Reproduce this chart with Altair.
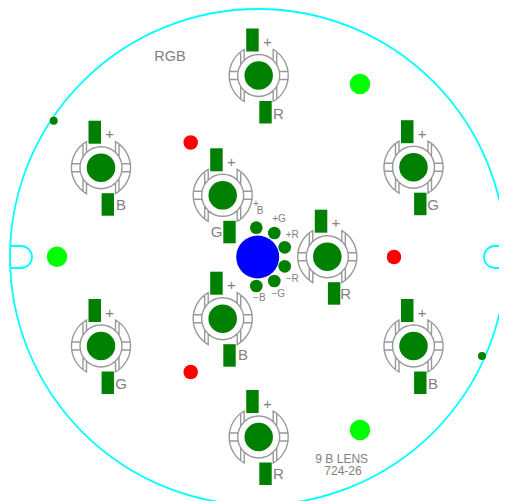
import altair as alt
import pandas as pd

# image-pixel coordinates
board_x = [258]; board_y = [257]
left_tab_x = [10]; right_tab_x = [506]; tab_y = [257]

led_x = [258.7, 101, 413.5, 222.7, 327.3, 222.7, 101, 413.5, 258.7]
led_y = [75.5, 167.7, 167.2, 195.3, 256.7, 318.7, 346, 346, 437]

pad_top_x1 = [x - 12.5 for x in led_x]
pad_top_x2 = list(led_x)
pad_top_y1 = [y - 47 for y in led_y]
pad_top_y2 = [y - 24 for y in led_y]
pad_bot_x1 = [x + 0.6 for x in led_x]
pad_bot_x2 = [x + 13 for x in led_x]
pad_bot_y1 = [y + 25.5 for y in led_y]
pad_bot_y2 = [y + 48 for y in led_y]

plus_x = [x + 8.6 for x in led_x]
plus_y = [y - 33.5 for y in led_y]

colour_text = ["R", "B", "G", "G", "R", "B", "G", "B", "R"]
colour_x = [278.3, 121, 433, 216.7, 345.7, 243, 121, 433, 278.3]
colour_y = [114, 205, 205, 232, 293.5, 355, 384, 384, 474]

hub_x = [257.7]; hub_y = [257]
dot_x = [256.3, 274.3, 284.7, 284.7, 274.3, 256.3]
dot_y = [227.7, 233, 247.3, 266.3, 281, 286]

small_text = ["+", "B", "+G", "+R", "\u2212R", "\u2212G", "\u2212B"]
small_x = [256, 260, 279, 292.3, 292.3, 278.3, 259.3]
small_y = [204, 211, 219.3, 234.7, 279.3, 294, 298.3]

red_x = [190.7, 394, 190.7]; red_y = [142.5, 257, 372]
lime_x = [360, 57, 360]; lime_y = [84, 256.7, 430]
via_x = [53.7, 482]; via_y = [120.7, 356]

big_text = ["RGB", "9 B LENS", "724-26"]
big_x = [170, 341.7, 343]; big_y = [57, 459, 471]
big_size = [14.5, 12, 12]

x_s = alt.Scale(domain=[8, 499], nice=False, zero=False)
y_s = alt.Scale(domain=[501, 8], nice=False, zero=False)
X = lambda f="x": alt.X(f + ":Q", scale=x_s, axis=None)
Y = lambda f="y": alt.Y(f + ":Q", scale=y_s, axis=None)

def pts(xs, ys):
    return alt.Chart(pd.DataFrame({"x": xs, "y": ys}))

def disc(xs, ys, d, color):
    return pts(xs, ys).mark_point(shape="circle", filled=True, size=d * d, color=color,
                                  opacity=1, strokeWidth=0).encode(x=X(), y=Y())

def rects(x1, x2, y1, y2):
    return alt.Chart(pd.DataFrame({"x": x1, "x2": x2, "y": y1, "y2": y2})).mark_rect(
        color="#008000").encode(x=X(), x2="x2:Q", y=Y(), y2="y2:Q")

def texts(labels, xs, ys, size):
    return alt.Chart(pd.DataFrame({"x": xs, "y": ys, "t": labels})).mark_text(
        font="Liberation Sans", fontSize=size, color="#808080", align="center", baseline="middle",
        opacity=0.99
    ).encode(x=X(), y=Y(), text="t:N")

# unit = 30 px; vega scales custom symbols by sqrt(size)/2
def u(v):
    return f"{v / 30:.4f}"

def P(*a):
    return " ".join(str(s) for s in a)

lobe = []
for s in (-1, 1):
    sw = 0 if s == -1 else 1
    lobe.append(P("M", u(s*14.5), u(-15), "L", u(s*14.5), u(-26),
                  "A", 1, 1, 0, 0, sw, u(s*14.5), u(26), "L", u(s*14.5), u(15)))
    lobe.append(P("M", u(s*18), u(-24), "L", u(s*18), u(-11)))
    lobe.append(P("M", u(s*18), u(24), "L", u(s*18), u(11)))
    lobe.append(P("M", u(s*30), u(-4), "L", u(s*21), u(-4)))
    lobe.append(P("M", u(s*30), u(4), "L", u(s*21), u(4)))
ring_r = 21 / 30
ring = P("M", u(21), 0, "A", ring_r, ring_r, 0, 1, 0, u(-21), 0, "A", ring_r, ring_r, 0, 1, 0, u(21), 0)
led_path = " ".join(lobe) + " " + ring

tab_l = "M0,-0.5 L0.5,-0.5 A0.5,0.5 0 0 1 0.5,0.5 L0,0.5"
tab_r = "M0,-0.5 L-0.5,-0.5 A0.5,0.5 0 0 0 -0.5,0.5 L0,0.5"

def outline(xs, ys, shape, d, color, w):
    return pts(xs, ys).mark_point(shape=shape, filled=False, size=d * d, color=color,
                                  opacity=1, strokeWidth=w).encode(x=X(), y=Y())

layers = [
    outline(board_x, board_y, "circle", 496, "#00ffff", 1.8),
    outline(left_tab_x, tab_y, tab_l, 44, "#00ffff", 1.8),
    outline(right_tab_x, tab_y, tab_r, 44, "#00ffff", 1.8),
    outline(led_x, led_y, led_path, 60, "#999999", 1.4),
    disc(led_x, led_y, 28.5, "#008000"),
    rects(pad_top_x1, pad_top_x2, pad_top_y1, pad_top_y2),
    rects(pad_bot_x1, pad_bot_x2, pad_bot_y1, pad_bot_y2),
    disc(hub_x, hub_y, 43, "#0000ff"),
    disc(dot_x, dot_y, 12.7, "#008000"),
    disc(red_x, red_y, 14.5, "#ff0000"),
    disc(lime_x, lime_y, 20.5, "#00ff00"),
    disc(via_x, via_y, 8, "#008000"),
    texts(["+"] * len(plus_x), plus_x, plus_y, 15),
    texts(colour_text, colour_x, colour_y, 15),
    texts(small_text, small_x, small_y, 10),
    texts(big_text[:1], big_x[:1], big_y[:1], big_size[0]),
    texts(big_text[1:], big_x[1:], big_y[1:], big_size[1]),
]

chart = alt.layer(*layers).properties(
    width=491, height=493, padding=0, autosize=alt.AutoSizeParams(type="none"),
    background="#ffffff",
).configure_view(stroke=None)

chart.save("out.html", embed_options={"renderer": "svg", "actions": False})
